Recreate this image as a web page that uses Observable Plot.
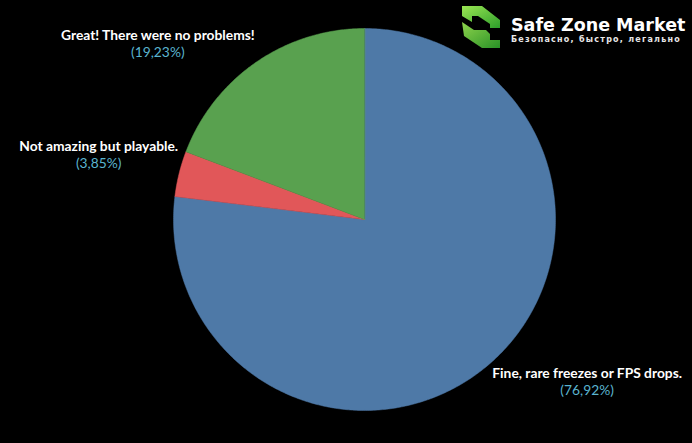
<!DOCTYPE html>
<html>
<head>
<meta charset="utf-8">
<script src="https://cdn.jsdelivr.net/npm/d3@7"></script>
<script src="https://cdn.jsdelivr.net/npm/@observablehq/plot@0.6"></script>
<style>
  html, body { margin: 0; padding: 0; background: #000; }
  #wrap { position: relative; width: 692px; height: 443px; overflow: hidden; background: #000; }
  #brand { position: absolute; left: 460px; top: 4px; width: 232px; height: 48px; overflow: hidden; }
  #brand .t1 { position: absolute; left: 51px; top: 11px; font: bold 17.5px "DejaVu Sans", sans-serif; color: #fff; white-space: nowrap; }
  #brand .t2 { position: absolute; left: 51px; top: 31px; font: bold 8px "DejaVu Sans", sans-serif; color: #e8e8e8; white-space: nowrap; letter-spacing: 1.25px; }
</style>
</head>
<body>
<div id="wrap">
  <div id="chart"></div>
  <div id="brand">
    <svg width="46" height="48" viewBox="0 0 46 48" style="position:absolute;left:0;top:0">
      <defs>
        <linearGradient id="g1" x1="0" y1="0" x2="1" y2="1">
          <stop offset="0" stop-color="#9be653"/><stop offset="1" stop-color="#2c9e2a"/>
        </linearGradient>
      </defs>
      <path d="M2 2 L22 2 L40 16 L40 24 L30 24 L30 20 L18 12 L12 12 L12 18 L2 12 Z" fill="url(#g1)"/>
      <path d="M2 18 L14 26 L26 26 L30 30 L30 36 L40 36 L40 44 L22 44 L4 32 Z" fill="url(#g1)" opacity="0.92"/>
    </svg>
    <div class="t1">Safe Zone Market</div>
    <div class="t2">Безопасно, быстро, легально</div>
  </div>
</div>
<script>
// ---- data ----
const categories = ["Fine, rare freezes or FPS drops.", "Not amazing but playable.", "Great! There were no problems!"];
const values = [76.92, 3.85, 19.23];
const pctLabels = ["(76,92%)", "(3,85%)", "(19,23%)"];
const colors = ["#4e79a7", "#e15759", "#59a14f"];

// ---- layout ----
const W = 692, H = 443;
const cx = 364, cy = 219, R = 191;
const FS = 13.8;
const nameFont = `bold ${FS}px Lato`;
const pctFont = `${FS}px Lato`;

const pie = d3.pie().sort(null).value(d => d)(values);

// slice outlines (angles from top, clockwise)
const pts = [];
pie.forEach((p, i) => {
  const n = Math.max(4, Math.ceil((p.endAngle - p.startAngle) / 0.01));
  pts.push({cat: categories[i], x: cx, y: cy});
  for (let k = 0; k <= n; k++) {
    const a = p.startAngle + (p.endAngle - p.startAngle) * k / n;
    pts.push({cat: categories[i], x: cx + R * Math.sin(a), y: cy - R * Math.cos(a)});
  }
});

// labels anchored at mid-angle on the rim
const ctx = document.createElement("canvas").getContext("2d");
const labels = [];
pie.forEach((p, i) => {
  const a = (p.startAngle + p.endAngle) / 2;
  const ax = cx + R * Math.sin(a), ay = cy - R * Math.cos(a);
  ctx.font = nameFont;
  const w1 = ctx.measureText(categories[i]).width;
  ctx.font = pctFont;
  const w2 = ctx.measureText(pctLabels[i]).width;
  const w = Math.max(w1, w2);
  const right = Math.sin(a) >= 0;
  const upper = Math.cos(a) > 0;
  const mx = right ? ax + 1 + w / 2 : ax - 1 - w / 2;
  const y1 = upper ? ay - 27 : ay + 11;
  labels.push({name: categories[i], pct: pctLabels[i], x: mx, y1, y2: y1 + 17});
});

const chart = Plot.plot({
  width: W, height: H,
  margin: 0,
  style: {background: "#000"},
  x: {type: "identity", axis: null},
  y: {type: "identity", axis: null},
  color: {domain: categories, range: colors},
  marks: [
    Plot.line(pts, {x: "x", y: "y", z: "cat", fill: "cat", stroke: "cat", strokeWidth: 0.5, curve: "linear-closed"}),
    Plot.text(labels, {x: "x", y: "y1", text: "name", fill: "#ffffff", fontSize: FS, fontWeight: "bold", fontFamily: "Lato", textAnchor: "middle"}),
    Plot.text(labels, {x: "x", y: "y2", text: "pct", fill: "#5ab4cf", fontSize: FS, fontFamily: "Lato", textAnchor: "middle"})
  ]
});
document.getElementById("chart").appendChild(chart);
</script>
</body>
</html>
